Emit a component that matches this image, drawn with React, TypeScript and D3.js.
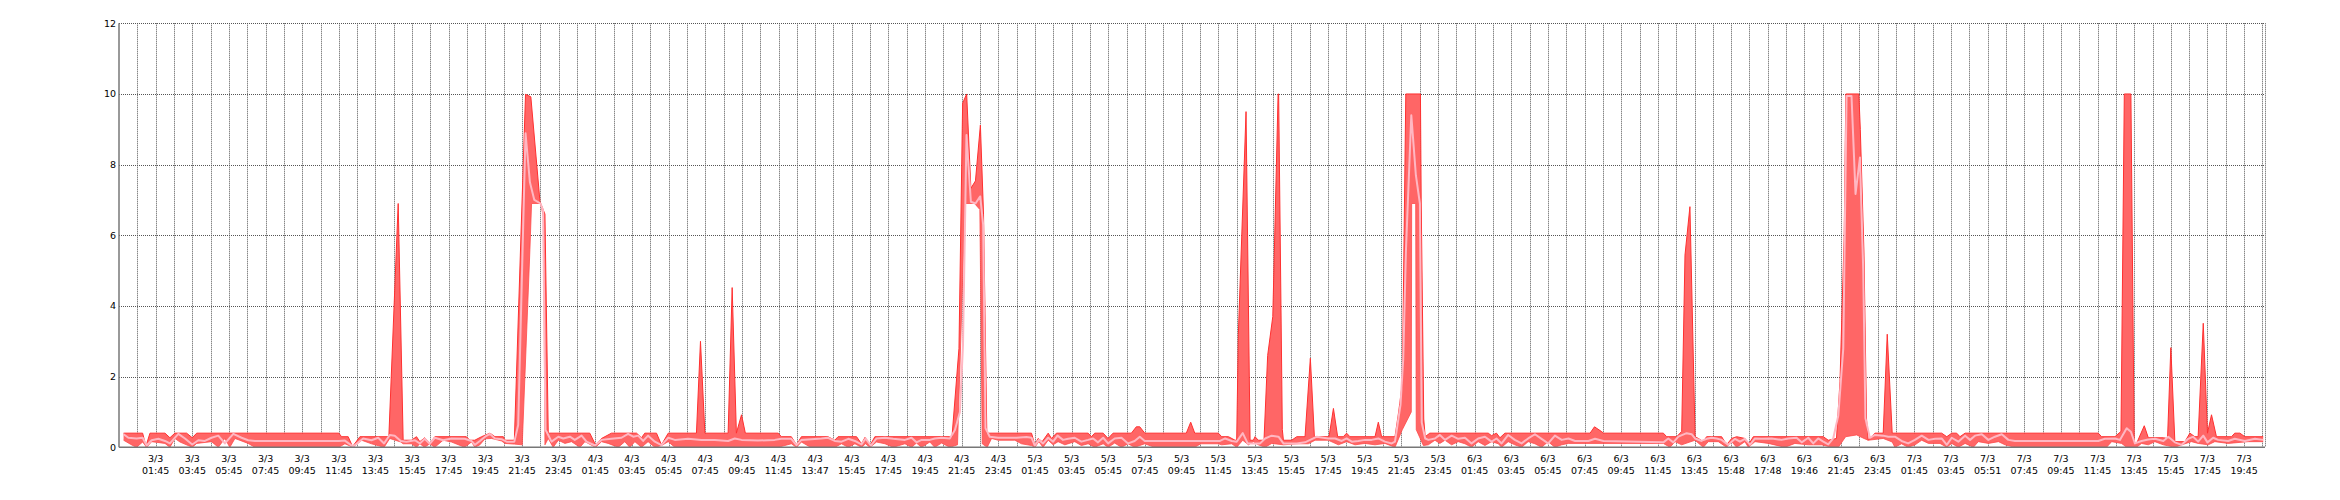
import React from "react";
import * as d3 from "d3";

type P = [number, number]; // [hours since 3/3 00:00, value]

const yTicks = [0, 2, 4, 6, 8, 10, 12];

const tickDates = [
  ...Array(12).fill("3/3"), ...Array(12).fill("4/3"), ...Array(12).fill("5/3"),
  ...Array(12).fill("6/3"), ...Array(10).fill("7/3"),
];
const tickTimes = [
  "01:45","03:45","05:45","07:45","09:45","11:45","13:45","15:45","17:45","19:45","21:45","23:45",
  "01:45","03:45","05:45","07:45","09:45","11:45","13:47","15:45","17:45","19:45","21:45","23:45",
  "01:45","03:45","05:45","07:45","09:45","11:45","13:45","15:45","17:45","19:45","21:45","23:45",
  "01:45","03:45","05:45","07:45","09:45","11:45","13:45","15:48","17:48","19:46","21:45","23:45",
  "01:45","03:45","05:51","07:45","09:45","11:45","13:45","15:45","17:45","19:45",
];

const maxSeries: P[] = [
  [0.0,0.4],[1.04,0.4],[1.22,0.03],[1.44,0.4],[2.26,0.4],[2.53,0.27],[2.8,0.4],[3.44,0.4],[3.75,0.27],[3.99,0.4],
  [11.75,0.4],[11.9,0.3],[12.26,0.3],[12.5,0.02],[12.9,0.3],[14.48,0.3],[14.99,6.9],[15.26,0.2],[15.71,0.2],[15.99,0.3],
  [16.17,0.16],[16.44,0.27],[16.71,0.11],[16.99,0.3],[18.71,0.3],[18.9,0.2],[19.17,0.2],[19.54,0.3],[20.0,0.4],[20.27,0.3],
  [20.73,0.3],[20.82,0.2],[21.33,0.2],[21.94,9.99],[22.23,9.92],[22.73,6.95],[23.0,6.6],[23.18,0.4],[25.45,0.4],[25.76,0.07],
  [26.09,0.25],[26.63,0.4],[28.0,0.4],[28.27,0.27],[28.45,0.4],[29.09,0.4],[29.36,0.07],[29.73,0.4],[31.27,0.4],[31.49,3.0],
  [31.73,0.4],[33.0,0.4],[33.22,4.52],[33.45,0.4],[33.73,0.92],[33.94,0.4],[35.73,0.4],[35.91,0.3],[36.45,0.3],[36.73,0.07],
  [37.0,0.3],[38.45,0.3],[38.82,0.2],[39.0,0.3],[40.01,0.3],[40.28,0.1],[40.47,0.28],[40.74,0.05],[41.01,0.3],[45.1,0.3],
  [45.22,0.3],[45.6,2.8],[45.8,9.74],[46.02,10.0],[46.25,7.33],[46.5,7.54],[46.77,9.12],[46.94,6.6],[47.12,0.4],[49.56,0.4],
  [49.74,0.07],[49.92,0.25],[50.14,0.16],[50.47,0.4],[50.65,0.25],[50.92,0.4],[52.65,0.4],[52.83,0.3],[53.01,0.4],[53.47,0.4],
  [53.74,0.25],[54.01,0.4],[55.01,0.4],[55.28,0.58],[55.47,0.58],[55.74,0.4],[58.01,0.4],[58.25,0.71],[58.47,0.4],[59.76,0.4],
  [59.94,0.3],[60.31,0.3],[60.67,0.2],[60.76,0.2],[60.85,3.2],[61.27,9.5],[61.49,0.2],[61.67,0.2],[61.76,0.3],[61.94,0.2],
  [62.25,0.2],[62.45,2.6],[62.73,3.7],[63.02,10.0],[63.05,10.0],[63.25,0.5],[63.31,0.2],[63.76,0.2],[64.04,0.3],[64.49,0.3],
  [64.78,2.52],[65.0,0.3],[65.8,0.3],[66.04,1.1],[66.27,0.3],[66.58,0.3],[66.76,0.4],[66.94,0.3],[68.31,0.3],[68.49,0.71],
  [68.67,0.3],[69.4,0.3],[69.6,1.0],[69.8,1.8],[69.99,10.0],[70.79,10.0],[70.83,7.0],[70.97,0.8],[71.05,0.3],[71.3,0.4],
  [74.49,0.4],[74.67,0.33],[74.94,0.4],[75.13,0.27],[75.4,0.4],[80.05,0.4],[80.29,0.58],[80.69,0.44],[80.78,0.4],[84.05,0.4],
  [84.23,0.3],[84.78,0.3],[85.05,0.45],[85.23,5.44],[85.5,6.81],[85.78,0.3],[85.96,0.25],[86.23,0.16],[86.41,0.3],[87.23,0.3],
  [87.5,0.07],[87.78,0.25],[88.05,0.3],[88.5,0.25],[88.69,0.07],[88.96,0.3],[92.78,0.3],[93.05,0.2],[93.5,0.25],[93.69,1.85],
  [93.92,6.0],[94.01,10.0],[94.72,10.0],[94.8,9.0],[95.0,5.5],[95.14,0.8],[95.23,0.2],[95.6,0.4],[96.05,0.4],[96.27,3.2],
  [96.54,0.4],[99.24,0.4],[99.52,0.3],[99.79,0.4],[100.06,0.4],[100.24,0.3],[100.52,0.4],[107.79,0.4],[107.97,0.3],[108.7,0.3],
  [109.03,0.45],[109.21,10.0],[109.57,10.0],[109.75,0.16],[109.88,0.11],[110.3,0.61],[110.52,0.27],[111.34,0.27],[111.57,0.25],[111.75,2.82],
  [111.97,0.16],[112.52,0.16],[112.79,0.4],[113.06,0.3],[113.24,0.3],[113.52,3.51],[113.75,0.4],[113.97,0.92],[114.24,0.3],[115.06,0.3],
  [115.24,0.4],[115.52,0.4],[115.79,0.3],[116.79,0.3],
];

const minSeries: P[] = [
  [0.0,0.2],[0.5,0.05],[0.71,0.0],[1.04,0.15],[1.26,0.0],[1.53,0.16],[2.26,0.11],[2.53,0.0],[2.8,0.25],[3.08,0.15],
  [3.75,0.0],[3.99,0.11],[4.8,0.16],[5.17,0.0],[5.53,0.25],[5.8,0.0],[6.08,0.25],[6.8,0.11],[7.17,0.0],[11.75,0.0],
  [12.08,0.1],[12.53,0.0],[12.99,0.2],[13.53,0.1],[14.22,0.0],[14.53,0.25],[15.13,0.15],[15.26,0.1],[15.71,0.1],[15.99,0.0],
  [16.17,0.1],[16.44,0.0],[16.71,0.1],[16.99,0.0],[17.44,0.2],[17.9,0.15],[18.62,0.0],[18.99,0.15],[19.18,0.0],[19.45,0.07],
  [19.73,0.24],[20.09,0.25],[20.63,0.18],[20.82,0.11],[21.33,0.09],[21.76,0.07],[22.18,5.6],[22.27,6.9],[22.76,6.9],[22.93,6.5],
  [23.0,0.07],[23.18,0.25],[23.45,0.0],[23.73,0.2],[24.09,0.11],[24.45,0.16],[24.91,0.0],[25.18,0.16],[25.76,0.0],[26.09,0.16],
  [26.45,0.11],[27.0,0.0],[27.36,0.16],[27.63,0.0],[27.91,0.16],[28.27,0.0],[28.63,0.16],[29.0,0.0],[29.36,0.05],[29.73,0.16],
  [30.09,0.0],[35.73,0.0],[36.45,0.1],[36.73,0.0],[37.0,0.15],[37.5,0.0],[38.83,0.0],[39.19,0.1],[39.56,0.0],[39.92,0.1],
  [40.28,0.0],[40.5,0.1],[40.74,0.0],[41.1,0.15],[41.56,0.1],[42.01,0.0],[42.65,0.1],[43.01,0.0],[43.28,0.12],[43.56,0.0],
  [44.01,0.15],[44.28,0.0],[44.65,0.12],[45.1,0.0],[45.52,0.07],[45.93,6.9],[46.45,6.9],[46.74,6.73],[46.87,0.1],[47.14,0.0],
  [47.38,0.25],[47.74,0.2],[48.65,0.2],[49.01,0.1],[49.56,0.05],[49.74,0.0],[49.96,0.16],[50.19,0.0],[50.47,0.2],[50.74,0.07],
  [51.01,0.16],[51.38,0.07],[51.92,0.16],[52.28,0.05],[52.65,0.1],[53.01,0.0],[53.47,0.1],[53.74,0.0],[54.1,0.12],[54.47,0.0],
  [54.83,0.1],[55.19,0.0],[55.74,0.1],[56.28,0.0],[58.47,0.0],[58.8,0.1],[59.76,0.1],[59.94,0.07],[60.49,0.1],[60.76,0.0],
  [61.09,0.2],[61.4,0.07],[61.67,0.16],[61.94,0.07],[62.31,0.0],[62.67,0.11],[63.31,0.07],[64.04,0.1],[64.67,0.1],[65.04,0.2],
  [65.76,0.2],[66.31,0.07],[66.76,0.16],[67.22,0.07],[67.76,0.11],[68.31,0.07],[68.85,0.11],[69.4,0.0],[69.8,0.5],[70.29,1.0],
  [70.31,6.9],[70.53,6.9],[70.56,0.5],[70.95,0.05],[71.22,0.07],[71.58,0.2],[71.85,0.11],[72.13,0.2],[72.49,0.07],[72.85,0.16],
  [73.22,0.1],[73.58,0.0],[73.94,0.16],[74.31,0.05],[74.67,0.16],[75.04,0.1],[75.22,0.0],[75.58,0.16],[75.94,0.07],[76.31,0.0],
  [76.67,0.16],[77.04,0.1],[77.4,0.0],[77.76,0.16],[78.13,0.0],[78.5,0.07],[78.87,0.11],[84.05,0.11],[84.41,0.0],[84.69,0.16],
  [85.05,0.07],[85.78,0.2],[86.23,0.0],[86.5,0.16],[87.05,0.16],[87.5,0.0],[87.78,0.16],[88.05,0.0],[88.5,0.16],[88.69,0.0],
  [89.05,0.16],[89.78,0.11],[90.69,0.0],[91.23,0.11],[91.96,0.07],[92.69,0.07],[93.23,0.0],[93.6,0.0],[94.0,0.3],[94.6,0.35],
  [95.0,0.25],[95.23,0.2],[96.05,0.25],[96.54,0.15],[96.69,0.0],[97.05,0.1],[97.41,0.0],[97.79,0.07],
  [98.15,0.2],[98.52,0.11],[99.15,0.11],[99.52,0.0],[99.79,0.11],[100.15,0.0],[100.52,0.11],[100.97,0.0],[101.24,0.16],[101.79,0.11],
  [102.34,0.16],[102.7,0.07],[103.24,0.0],[108.24,0.0],[108.52,0.16],[109.06,0.11],[109.34,0.0],[109.88,0.0],[110.15,0.11],[110.52,0.07],
  [110.88,0.16],[111.34,0.07],[111.97,0.0],[112.34,0.07],[112.88,0.16],[113.24,0.11],[113.79,0.07],[114.15,0.16],[114.88,0.11],[115.97,0.16],
  [116.79,0.16],
];

const avgSeries: P[] = [
  [0.0,0.37],[0.26,0.27],[0.71,0.25],[1.04,0.27],[1.26,0.05],[1.53,0.2],[1.9,0.24],[2.26,0.18],[2.53,0.11],[2.99,0.38],
  [3.35,0.25],[3.75,0.08],[4.08,0.2],[4.44,0.18],[4.8,0.27],[5.17,0.33],[5.53,0.11],[5.99,0.38],[6.44,0.27],[6.8,0.2],
  [7.17,0.18],[11.75,0.18],[12.08,0.19],[12.53,0.02],[13.08,0.25],[13.53,0.2],[13.9,0.27],[14.22,0.11],[14.53,0.35],[14.8,0.33],
  [15.13,0.18],[15.44,0.16],[15.9,0.2],[16.17,0.11],[16.44,0.24],[16.71,0.1],[16.99,0.27],[17.44,0.2],[17.9,0.25],[18.62,0.24],
  [18.99,0.18],[19.18,0.07],[19.45,0.18],[19.73,0.3],[20.0,0.38],[20.27,0.25],[20.63,0.23],[20.91,0.16],[21.33,0.16],[21.54,0.63],
  [21.94,8.89],[22.18,7.5],[22.42,7.0],[22.76,6.9],[22.9,6.7],[23.03,0.49],[23.09,0.44],[23.36,0.16],[23.73,0.3],[24.0,0.25],
  [24.36,0.3],[24.63,0.21],[25.0,0.33],[25.27,0.16],[25.73,0.05],[26.09,0.21],[26.63,0.24],[27.18,0.27],[27.54,0.38],[27.82,0.3],
  [28.09,0.33],[28.36,0.18],[28.63,0.33],[29.0,0.16],[29.36,0.06],[29.73,0.27],[30.09,0.21],[30.82,0.24],[31.54,0.21],[32.27,0.21],
  [33.0,0.18],[33.36,0.25],[33.73,0.21],[34.63,0.19],[35.54,0.21],[35.91,0.24],[36.45,0.24],[36.73,0.06],[37.0,0.21],[38.09,0.25],
  [38.45,0.27],[38.82,0.18],[39.19,0.16],[39.56,0.24],[39.92,0.18],[40.28,0.08],[40.5,0.25],[40.79,0.05],[41.1,0.25],[41.56,0.27],
  [42.01,0.24],[42.65,0.21],[43.01,0.27],[43.28,0.14],[43.56,0.21],[44.01,0.21],[44.28,0.25],[44.65,0.27],[45.1,0.25],[45.38,0.49],
  [45.65,1.0],[45.82,2.9],[46.01,8.84],[46.25,6.95],[46.5,6.9],[46.76,7.1],[46.92,6.3],[47.05,0.54],[47.28,0.3],[47.74,0.27],
  [48.74,0.27],[49.28,0.29],[49.56,0.27],[49.74,0.05],[49.96,0.21],[50.19,0.11],[50.47,0.27],[50.74,0.16],[50.98,0.33],[51.28,0.21],
  [51.56,0.24],[51.92,0.27],[52.28,0.16],[52.65,0.21],[52.92,0.25],[53.19,0.14],[53.47,0.27],[53.74,0.11],[54.1,0.25],[54.47,0.27],
  [54.83,0.11],[55.19,0.18],[55.47,0.3],[55.74,0.18],[57.01,0.18],[58.47,0.18],[59.22,0.18],[59.85,0.18],[60.13,0.25],[60.49,0.18],
  [60.76,0.16],[61.09,0.4],[61.36,0.11],[61.67,0.11],[62.04,0.11],[62.31,0.25],[62.67,0.33],[63.04,0.3],[63.31,0.11],[63.76,0.11],
  [64.04,0.11],[64.49,0.14],[64.94,0.25],[65.13,0.3],[65.76,0.25],[66.13,0.25],[66.49,0.18],[66.76,0.25],[67.04,0.16],[67.4,0.18],
  [67.76,0.21],[68.13,0.21],[68.49,0.25],[68.85,0.16],[69.22,0.11],[69.4,0.16],[69.7,1.2],[69.85,2.5],[70.0,5.6],[70.29,9.4],
  [70.54,7.7],[70.76,6.9],[70.86,0.7],[71.05,0.25],[71.22,0.21],[71.58,0.25],[71.85,0.35],[72.13,0.21],[72.49,0.33],[72.85,0.24],
  [73.22,0.27],[73.58,0.11],[73.94,0.25],[74.31,0.3],[74.67,0.16],[74.94,0.25],[75.22,0.11],[75.58,0.35],[75.94,0.21],[76.31,0.11],
  [76.67,0.25],[77.04,0.37],[77.4,0.24],[77.76,0.11],[78.13,0.33],[78.5,0.21],[78.87,0.25],[79.23,0.18],[79.96,0.18],[80.32,0.24],
  [80.78,0.18],[84.05,0.14],[84.32,0.25],[84.59,0.14],[84.87,0.3],[85.32,0.4],[85.59,0.37],[85.78,0.25],[86.14,0.18],[86.41,0.24],
  [86.69,0.27],[86.96,0.25],[87.23,0.21],[87.59,0.07],[87.96,0.24],[88.23,0.16],[88.5,0.24],[88.78,0.07],[89.05,0.25],[89.41,0.24],
  [89.96,0.25],[90.5,0.21],[90.87,0.25],[91.32,0.27],[91.6,0.14],[91.96,0.27],[92.23,0.11],[92.5,0.25],[92.78,0.16],[93.05,0.08],
  [93.32,0.25],[93.6,0.9],[93.87,2.8],[94.05,9.94],[94.32,9.94],[94.54,7.17],[94.78,8.2],[94.96,5.0],[95.08,0.82],[95.32,0.27],
  [95.6,0.35],[96.05,0.33],[96.32,0.3],[96.69,0.3],[97.05,0.18],[97.41,0.11],[97.78,0.21],[98.15,0.33],[98.52,0.21],[98.88,0.24],
  [99.24,0.25],[99.52,0.07],[99.79,0.27],[100.15,0.16],[100.52,0.33],[100.79,0.21],[101.06,0.33],[101.43,0.37],[101.79,0.21],[102.15,0.3],
  [102.52,0.37],[102.88,0.21],[103.24,0.18],[107.79,0.18],[108.15,0.24],[108.7,0.25],[108.97,0.21],[109.34,0.54],[109.57,0.44],[109.79,0.11],
  [110.15,0.18],[110.52,0.22],[110.88,0.24],[111.34,0.18],[111.61,0.3],[111.97,0.14],[112.34,0.07],[112.7,0.24],[112.97,0.3],[113.24,0.16],
  [113.52,0.33],[113.75,0.14],[114.06,0.27],[114.33,0.21],[114.88,0.18],[115.24,0.24],[115.79,0.18],[116.34,0.24],[116.79,0.21],
];

export default function App() {
  const W = 2340, H = 500;
  const left = 119, right = 2265, top = 23.3, bottom = 447.3;
  const x = d3.scaleLinear().domain([-0.25, 116.89]).range([left, right]);
  const y = d3.scaleLinear().domain([0, 12]).range([bottom, top]);
  const line = d3.line<P>().x((d) => x(d[0])).y((d) => y(d[1]));
  const bandPath = line([...maxSeries, ...minSeries.slice().reverse()]) + "Z";
  const gridHours = d3.range(0.75, 116.8, 1);
  const tickHours = tickTimes.map((_, i) => 1.75 + 2 * i);
  const font = "'DejaVu Sans', Verdana, sans-serif";
  const crisp = (v: number) => Math.round(v) + 0.5;

  return (
    <div style={{ position: "absolute", left: 0, top: 0, width: W, height: H, background: "#fff" }}>
      <svg width={W} height={H} style={{ display: "block" }}>
        <rect width={W} height={H} fill="#fff" />
        <g stroke="#555" strokeWidth={1} strokeDasharray="1 1">
          {gridHours.map((h) => (
            <line key={"v" + h} x1={crisp(x(h))} x2={crisp(x(h))} y1={top} y2={bottom} />
          ))}
          <line x1={crisp(right)} x2={crisp(right)} y1={top} y2={bottom} />
          {yTicks.filter((v) => v > 0).map((v) => (
            <line key={"h" + v} x1={left} x2={right} y1={crisp(y(v))} y2={crisp(y(v))} />
          ))}
        </g>
        <path d={bandPath} fill="#ff6666" stroke="none" />
        <path d={line(maxSeries) || ""} fill="none" stroke="#ff3030" strokeWidth={1} strokeLinejoin="round" />
        <path d={line(minSeries) || ""} fill="none" stroke="#ff4a4a" strokeWidth={0.8} strokeLinejoin="round" />
        <path d={line(avgSeries) || ""} fill="none" stroke="#ffb7c2" strokeWidth={2} strokeLinejoin="round" />
        <line x1={left} x2={left} y1={top} y2={bottom} stroke="#777" strokeWidth={1.5} />
        <line x1={left} x2={right} y1={bottom} y2={bottom} stroke="#777" strokeWidth={1.5} />
        <g fontFamily={font} fontSize={9.5} fill="#000">
          {yTicks.map((v) => (
            <text key={"yl" + v} x={116} y={y(v)} dy="0.35em" textAnchor="end">{v}</text>
          ))}
          {tickHours.map((h, i) => (
            <text key={"xl" + i} x={x(h)} textAnchor="middle">
              <tspan x={x(h)} y={462}>{tickDates[i]}</tspan>
              <tspan x={x(h)} y={474}>{tickTimes[i]}</tspan>
            </text>
          ))}
        </g>
      </svg>
    </div>
  );
}
